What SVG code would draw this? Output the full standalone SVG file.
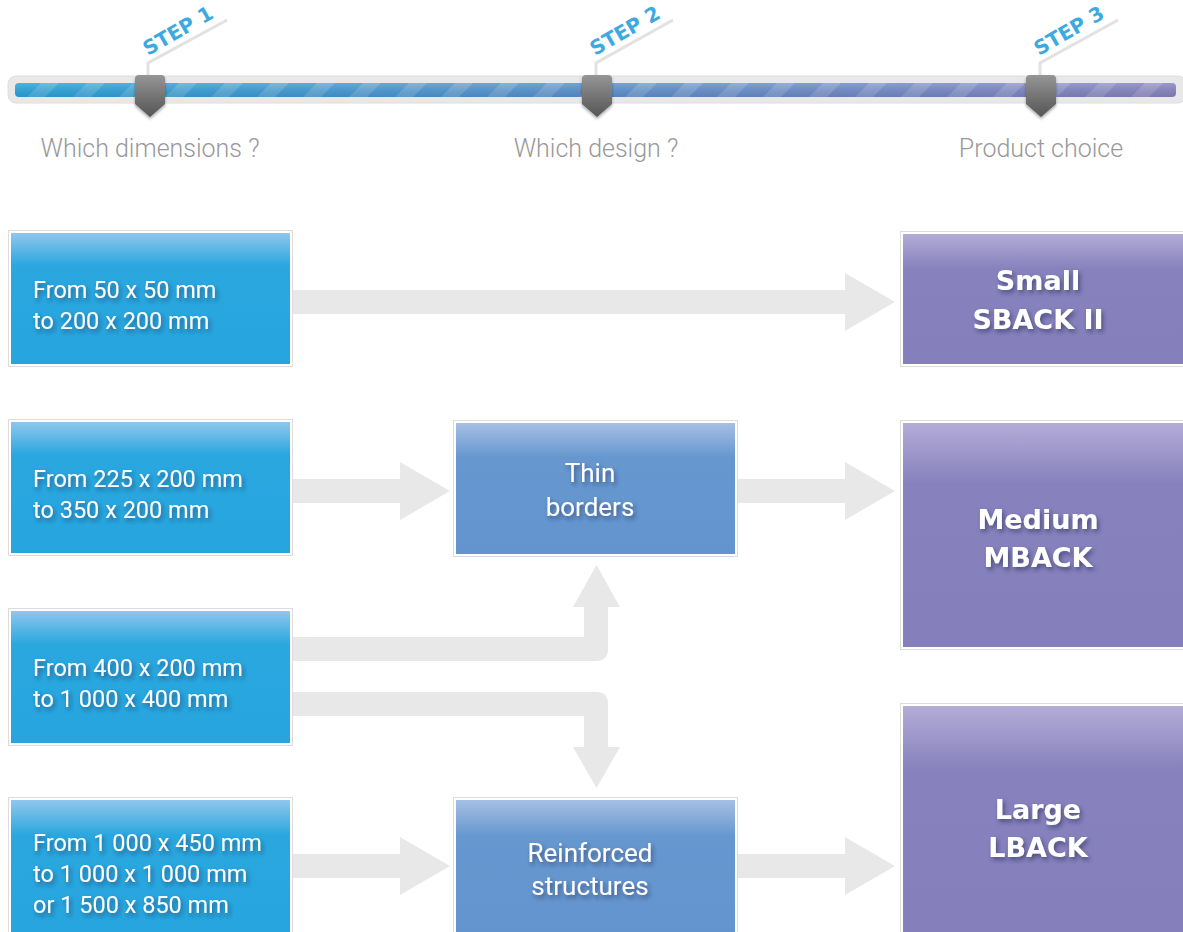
<svg xmlns="http://www.w3.org/2000/svg" width="1183" height="932" viewBox="0 0 1183 932">
<defs>
<linearGradient id="gBlue" x1="0" y1="0" x2="0" y2="1"><stop offset="0" stop-color="#8fc7ec"/><stop offset="0.25" stop-color="#2aa7df"/><stop offset="1" stop-color="#26a5de"/></linearGradient>
<linearGradient id="gMid" x1="0" y1="0" x2="0" y2="1"><stop offset="0" stop-color="#a6bfe4"/><stop offset="0.26" stop-color="#6697cf"/><stop offset="1" stop-color="#6394cd"/></linearGradient>
<linearGradient id="gPur" x1="0" y1="0" x2="0" y2="1"><stop offset="0" stop-color="#b4acd7"/><stop offset="0.27" stop-color="#8781bd"/><stop offset="1" stop-color="#857fbb"/></linearGradient>
<linearGradient id="gBar" x1="0" y1="0" x2="1" y2="0"><stop offset="0" stop-color="#29a7de"/><stop offset="0.5" stop-color="#5d93d1"/><stop offset="1" stop-color="#8b86c2"/></linearGradient>
<linearGradient id="gBarShade" x1="0" y1="0" x2="0" y2="1"><stop offset="0" stop-color="#fff" stop-opacity="0.15"/><stop offset="1" stop-color="#000" stop-opacity="0.1"/></linearGradient>
<linearGradient id="gMark" x1="0" y1="0" x2="0" y2="1"><stop offset="0" stop-color="#959595"/><stop offset="1" stop-color="#555"/></linearGradient>
<pattern id="stripes" patternUnits="userSpaceOnUse" width="46" height="14" patternTransform="translate(15,83)">
<polygon points="12,14 30,14 44,0 26,0" fill="#ffffff" fill-opacity="0.16"/>
<polygon points="-34,14 -16,14 -2,0 -20,0" fill="#ffffff" fill-opacity="0.16"/>
</pattern>
<filter id="ts" x="-20%" y="-30%" width="140%" height="170%"><feDropShadow dx="2" dy="3" stdDeviation="2" flood-color="#1a2a50" flood-opacity="0.55"/></filter>
<filter id="ms" x="-40%" y="-20%" width="180%" height="150%"><feDropShadow dx="0" dy="2" stdDeviation="1.5" flood-color="#000" flood-opacity="0.35"/></filter>
<style>
.frame{fill:#fff;stroke:#dcdcdc;stroke-width:1}
.lt{font-family:Roboto,"Liberation Sans",sans-serif;font-size:23.5px;fill:#fff}
.mt{font-family:Roboto,"Liberation Sans",sans-serif;font-size:26px;fill:#fff;text-anchor:middle}
.rt{font-family:"DejaVu Sans","Liberation Sans",sans-serif;font-weight:bold;font-size:27px;fill:#fff;text-anchor:middle}
.step{font-family:"DejaVu Sans","Liberation Sans",sans-serif;font-weight:bold;font-size:20px;fill:#3da9e1}
.lbl{font-family:Roboto,"Liberation Sans",sans-serif;font-weight:300;font-size:25px;fill:#999;text-anchor:middle}
.arr{fill:#e8e8e8}
.sl{fill:none;stroke:#e2e2e2;stroke-width:3}
</style>
</defs>
<rect width="1183" height="932" fill="#fff"/>

<g id="progress">
<rect x="8" y="76" width="1178" height="27" rx="8" fill="#e8e8e8" stroke="#dedede"/>
<rect x="15" y="83" width="1161" height="14" rx="4" fill="url(#gBar)"/>
<rect x="15" y="83" width="1161" height="14" rx="4" fill="url(#stripes)"/>
<rect x="15" y="83" width="1161" height="14" rx="4" fill="url(#gBarShade)"/>
</g>

<g id="step1">
<polyline class="sl" points="148,76 148,63 227,20"/>
<text class="step" transform="translate(148,56) rotate(-30)">STEP 1</text>
<path d="M135,79 Q135,75 139,75 H161 Q165,75 165,79 V104 L150,117 L135,104 Z" fill="url(#gMark)" filter="url(#ms)"/>
<text class="lbl" x="150" y="157">Which dimensions ?</text>
</g>
<g id="step2">
<polyline class="sl" points="596,76 596,63 673,20"/>
<text class="step" transform="translate(595,56) rotate(-30)">STEP 2</text>
<path d="M582,79 Q582,75 586,75 H608 Q612,75 612,79 V104 L597,117 L582,104 Z" fill="url(#gMark)" filter="url(#ms)"/>
<text class="lbl" x="596" y="157">Which design ?</text>
</g>
<g id="step3">
<polyline class="sl" points="1040,76 1040,63 1118,20"/>
<text class="step" transform="translate(1039,56) rotate(-30)">STEP 3</text>
<path d="M1026,79 Q1026,75 1030,75 H1052 Q1056,75 1056,79 V104 L1041,117 L1026,104 Z" fill="url(#gMark)" filter="url(#ms)"/>
<text class="lbl" x="1041" y="157">Product choice</text>
</g>

<g id="connectors">
<path class="arr" d="M292,290 H845 V273 L895,302 L845,331 V314 H292 Z"/>
<path class="arr" d="M292,479 H400 V462 L450,491 L400,520 V503 H292 Z"/>
<path class="arr" d="M738,479 H845 V462 L895,491 L845,520 V503 H738 Z"/>
<path class="arr" d="M292,637 H584 V607 H573 L596.5,565 L620,607 H608 V649 Q608,661 596,661 H292 Z"/>
<path class="arr" d="M292,692 H596 Q608,692 608,704 V747 H620 L596.5,788 L573,747 H584 V716 H292 Z"/>
<path class="arr" d="M292,854 H400 V837 L450,866 L400,895 V878 H292 Z"/>
<path class="arr" d="M738,854 H845 V837 L895,866 L845,895 V878 H738 Z"/>
</g>

<g id="dim1">
<rect class="frame" x="8.5" y="230.5" width="284" height="136"/>
<rect x="11" y="233" width="279" height="131" fill="url(#gBlue)"/>
<text class="lt" filter="url(#ts)"><tspan x="33" y="298">From 50 x 50 mm</tspan><tspan x="33" y="329">to 200 x 200 mm</tspan></text>
</g>
<g id="dim2">
<rect class="frame" x="8.5" y="419.5" width="284" height="136"/>
<rect x="11" y="422" width="279" height="131" fill="url(#gBlue)"/>
<text class="lt" filter="url(#ts)"><tspan x="33" y="487">From 225 x 200 mm</tspan><tspan x="33" y="518">to 350 x 200 mm</tspan></text>
</g>
<g id="dim3">
<rect class="frame" x="8.5" y="608.5" width="284" height="137"/>
<rect x="11" y="611" width="279" height="132" fill="url(#gBlue)"/>
<text class="lt" filter="url(#ts)"><tspan x="33" y="676">From 400 x 200 mm</tspan><tspan x="33" y="707">to 1 000 x 400 mm</tspan></text>
</g>
<g id="dim4">
<rect class="frame" x="8.5" y="797.5" width="284" height="140"/>
<rect x="11" y="800" width="279" height="140" fill="url(#gBlue)"/>
<text class="lt" filter="url(#ts)"><tspan x="33" y="851">From 1 000 x 450 mm</tspan><tspan x="33" y="882">to 1 000 x 1 000 mm</tspan><tspan x="33" y="913">or 1 500 x 850 mm</tspan></text>
</g>

<g id="thin">
<rect class="frame" x="453.5" y="420.5" width="284" height="136"/>
<rect x="456" y="423" width="279" height="131" fill="url(#gMid)"/>
<text class="mt" filter="url(#ts)"><tspan x="590" y="482">Thin</tspan><tspan x="590" y="516">borders</tspan></text>
</g>
<g id="reinforced">
<rect class="frame" x="453.5" y="797.5" width="284" height="140"/>
<rect x="456" y="800" width="279" height="140" fill="url(#gMid)"/>
<text class="mt" filter="url(#ts)"><tspan x="590" y="862">Reinforced</tspan><tspan x="590" y="895">structures</tspan></text>
</g>

<g id="small">
<rect class="frame" x="900.5" y="231.5" width="290" height="135"/>
<rect x="903" y="234" width="285" height="130" fill="url(#gPur)"/>
<text class="rt" filter="url(#ts)"><tspan x="1038" y="290">Small</tspan><tspan x="1038" y="329">SBACK II</tspan></text>
</g>
<g id="medium">
<rect class="frame" x="900.5" y="420.5" width="290" height="229"/>
<rect x="903" y="423" width="285" height="224" fill="url(#gPur)"/>
<text class="rt" filter="url(#ts)"><tspan x="1038" y="529">Medium</tspan><tspan x="1038" y="567">MBACK</tspan></text>
</g>
<g id="large">
<rect class="frame" x="900.5" y="703.5" width="290" height="240"/>
<rect x="903" y="706" width="285" height="240" fill="url(#gPur)"/>
<text class="rt" filter="url(#ts)"><tspan x="1038" y="819">Large</tspan><tspan x="1038" y="857">LBACK</tspan></text>
</g>
</svg>
